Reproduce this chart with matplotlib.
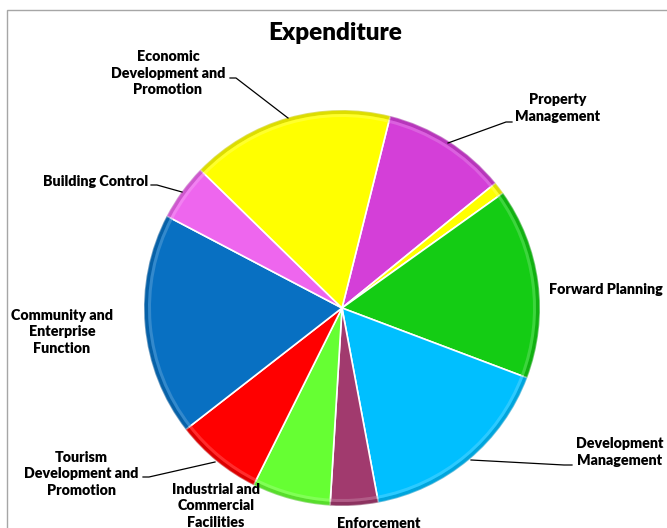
import matplotlib
matplotlib.use("Agg")
import matplotlib.pyplot as plt
from matplotlib.patches import Wedge, Rectangle
import matplotlib.colors as mcolors

# Slices in clockwise order, starting from the yellow/magenta border near the top
categories = ["Property Management", "", "Forward Planning", "Development Management",
              "Enforcement", "Industrial and Commercial Facilities",
              "Tourism Development and Promotion", "Community and Enterprise Function",
              "Building Control", "Economic Development and Promotion"]
shares = [10.2, 1.0, 15.6, 16.3, 3.9, 6.4, 7.1, 18.2, 4.6, 16.6]
colors = ["#D43FD8", "#FFFF00", "#14CC14", "#00BFFF", "#A13A6E",
          "#66FF33", "#FF0000", "#0870C2", "#EE66EE", "#FFFF00"]

W, H = 667, 528
fig = plt.figure(figsize=(W / 100, H / 100), dpi=100)
ax = fig.add_axes([0, 0, 1, 1])

FONT = ["Lato", "DejaVu Sans"]

cx, cy, R = 342, H - 308, 198
wedges, _ = ax.pie(shares, colors=colors, startangle=75.9, counterclock=False,
                   center=(cx, cy), radius=R, frame=True,
                   wedgeprops=dict(edgecolor="white", linewidth=1.2))
ax.set_xlim(0, W)
ax.set_ylim(0, H)
ax.set_aspect("equal")
ax.axis("off")

# chart frame (cropped at right and bottom)
ax.add_patch(Rectangle((7, -20), W + 20, H - 10 + 20, fill=False,
                       edgecolor="#A6A6A6", linewidth=1.0))

# soft bevel: darker rim at outer edge and lighter highlight inside
for w, c in zip(wedges, colors):
    rgb = mcolors.to_rgb(c)
    dark = tuple(v * 0.78 for v in rgb)
    ax.add_patch(Wedge((cx, cy), R, w.theta1, w.theta2, width=4,
                       facecolor=dark, edgecolor="none", alpha=0.6))
    light = tuple(v + (1 - v) * 0.35 for v in rgb)
    ax.add_patch(Wedge((cx, cy), R - 4, w.theta1, w.theta2, width=3,
                       facecolor=light, edgecolor="none", alpha=0.5))

ax.text(335, H - 33, "Expenditure", ha="center", va="center",
        fontsize=17.5, fontweight="heavy", family=FONT)

labels = [
    ("Economic\nDevelopment and\nPromotion", 168, 73, "center"),
    ("Property\nManagement", 558, 108, "center"),
    ("Forward Planning", 549, 289, "left"),
    ("Development\nManagement", 620, 452, "center"),
    ("Enforcement", 379, 523, "center"),
    ("Industrial and\nCommercial\nFacilities", 216, 506, "center"),
    ("Tourism\nDevelopment and\nPromotion", 81, 474, "center"),
    ("Community and\nEnterprise\nFunction", 62, 332, "center"),
    ("Building Control", 96, 182, "center"),
]
for txt, x, y, ha in labels:
    ax.text(x, H - y, txt, ha=ha, va="center", fontsize=10.3, fontweight="heavy",
            family=FONT, linespacing=1.3)

leaders = [
    [(230, 78), (236, 78), (288, 118)],
    [(512, 122), (506, 122), (448, 143)],
    [(572, 465), (564, 465), (471, 460)],
    [(143, 477), (149, 477), (215, 462)],
    [(151, 185), (157, 185), (182, 192)],
]
for pts in leaders:
    xs = [p[0] for p in pts]
    ys = [H - p[1] for p in pts]
    ax.plot(xs, ys, color="black", linewidth=0.9)

fig.savefig("out.png", dpi=100, facecolor="white")
